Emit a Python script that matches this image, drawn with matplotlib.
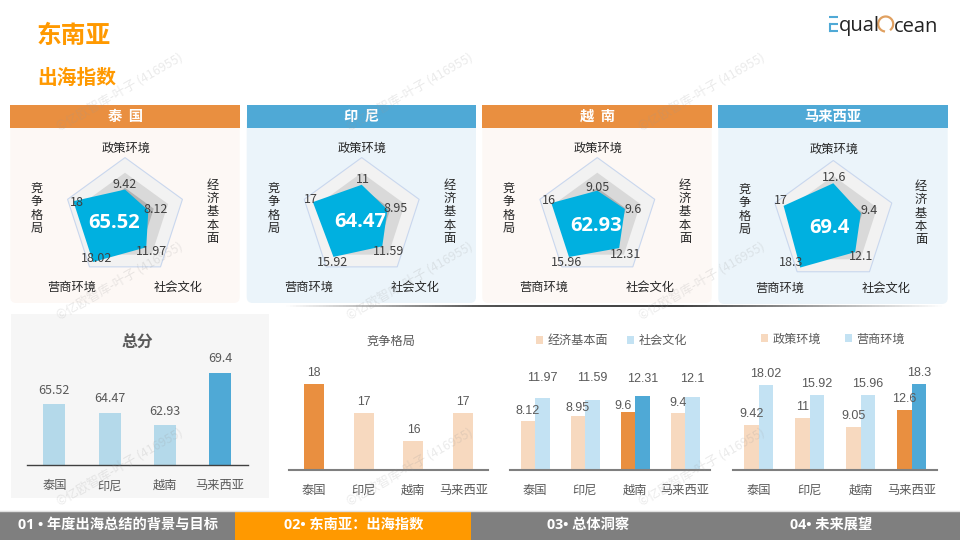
import matplotlib
matplotlib.use("Agg")
import matplotlib.pyplot as plt
import numpy as np
from matplotlib.patches import Rectangle, FancyBboxPatch, Arc

plt.rcParams['font.family'] = ['Noto Sans CJK SC', 'DejaVu Sans']

# data
countries = ['泰国', '印尼', '越南', '马来西亚']
radar_axes = ['政策环境', '经济基本面', '社会文化', '营商环境', '竞争格局']
radar_rings = [20, 15, 10]
radar_thai = [9.42, 8.12, 11.97, 18.02, 18]
radar_indo = [11, 8.95, 11.59, 15.92, 17]
radar_viet = [9.05, 9.6, 12.31, 15.96, 16]
radar_malay = [12.6, 9.4, 12.1, 18.3, 17]
total_score = [65.52, 64.47, 62.93, 69.4]
total_labels = ['65.52', '64.47', '62.93', '69.4']
compete = [18, 17, 16, 17]
economy = [8.12, 8.95, 9.6, 9.4]
society = [11.97, 11.59, 12.31, 12.1]
policy = [9.42, 11, 9.05, 12.6]
business = [18.02, 15.92, 15.96, 18.3]

ORANGE = '#E98F40'
LIGHT_ORANGE = '#F7D9BF'
BLUE = '#4FA9D6'
LIGHT_BLUE = '#C3E2F3'
TOTAL_BLUE = '#B4D9EA'
TITLE_ORANGE = '#FF9900'
GREY = '#595959'
NUM_FONT = ['Liberation Sans', 'DejaVu Sans']
FOOT_FONT = ['Open Sans', 'Noto Sans CJK SC']
W, H = 960, 540


def px_axes(left, right, top, bottom, **kw):
    return fig.add_axes([left / W, 1 - bottom / H, (right - left) / W, (bottom - top) / H], **kw)


fig = plt.figure(figsize=(9.6, 5.4), dpi=100, facecolor='white')
bg = px_axes(0, W, 0, H, zorder=0)
bg.set_xlim(0, W)
bg.set_ylim(H, 0)
bg.axis('off')
top = px_axes(0, W, 0, H, zorder=5)
top.set_xlim(0, W)
top.set_ylim(H, 0)
top.axis('off')

# titles
bg.text(37, 36, '东南亚', color=TITLE_ORANGE, fontsize=17.8, weight='bold', va='center')
bg.text(37, 78.5, '出海指数', color=TITLE_ORANGE, fontsize=14.2, weight='bold', va='center')

# logo
for y0 in [17, 24, 31]:
    bg.plot([829, 838], [y0, y0], color='#4FA9D6', lw=1.5, solid_capstyle='butt')
bg.plot([829.7, 829.7], [24, 31], color='#4FA9D6', lw=1.5)
bg.text(839, 31.5, 'qual', family='Open Sans', fontsize=14.5, color='#222222', va='baseline')
bg.add_patch(Arc((885.7, 24), 15, 15, theta1=95, theta2=55, color='#E0A060', lw=1.6))
bg.text(893.5, 31.5, 'cean', family='Open Sans', fontsize=14.5, color='#222222', va='baseline')

# radar panels
panels = [
    ('泰  国', radar_thai, '65.52', 10.3, 239.7, ORANGE, '#FDF8F5', 125, 218, 60.4, 114, 223),
    ('印  尼', radar_indo, '64.47', 246.7, 476, BLUE, '#EBF4FA', 361.7, 218, 60.4, 360, 222),
    ('越  南', radar_viet, '62.93', 482.3, 711.7, ORANGE, '#FDF8F5', 597.3, 218, 60.4, 596, 225.7),
    ('马来西亚', radar_malay, '69.4', 718.3, 947.7, BLUE, '#EBF4FA', 833.3, 222, 61.5, 829, 227.7),
]
label_offsets = [
    [(0, 5), (7, 1), (5, -4), (4, 4), (4, -1)],
    [(1, 5), (8, 1), (6, -5), (-1, -6), (-2, 3)],
    [(0, 3), (8, 0), (6, -6), (-2, -6), (-2, 3)],
    [(1, 6), (8, 3), (6, -4), (-9, 5), (-3, 5)],
]
angles = np.linspace(0, 2 * np.pi, 5, endpoint=False)
closed = np.append(angles, angles[0])

# soft shadow under the panels
shade = np.interp(np.linspace(283, 945, 200), [283, 480, 680, 945], [1.0, 0.33, 0.25, 1.0])
bg.imshow(shade[None, :], extent=[283, 945, 307.5, 305.5], cmap='gray', vmin=0, vmax=1, aspect='auto', zorder=1)
bg.set_xlim(0, W)
bg.set_ylim(H, 0)

for (name, vals, score, x0, x1, head, body, cx, cy, r, sx, sy), offs in zip(panels, label_offsets):
    bottom_y = 303 if cx < 800 else 304
    bg.add_patch(FancyBboxPatch((x0 + 6, 120), x1 - x0 - 12, bottom_y - 126, boxstyle='round,pad=6',
                                fc=body, ec='none', zorder=2))
    bg.add_patch(Rectangle((x0, 104.5), x1 - x0, 23.5, fc=head, ec='none', zorder=3))
    bg.text((x0 + x1) / 2, 116.5, name, color='white', fontsize=10.3, weight='bold', ha='center',
            va='center', zorder=4)

    ax = px_axes(cx - r, cx + r, cy - r, cy + r, projection='polar', zorder=2)
    ax.set_theta_zero_location('N')
    ax.set_theta_direction(-1)
    ax.set_rlim(0, radar_rings[0])
    ax.axis('off')
    ax.fill(closed, [radar_rings[0]] * 6, fc='#F2F2F2', ec='#C9D7EE', lw=0.8, clip_on=False)
    ax.fill(closed, [radar_rings[1]] * 6, fc='#D9D9D9', ec='none')
    ax.fill(closed, [radar_rings[2]] * 6, fc='#B3B3B3', ec='none')
    ax.fill(closed, vals + vals[:1], fc='#00B0E0', ec='none')
    for a, v, off in zip(angles, vals, offs):
        ax.annotate('%g' % v, xy=(a, v), xytext=off, textcoords='offset pixels', ha='center',
                    va='center', fontsize=9, color='#404040')

    top.text(sx, sy, score, color='white', fontsize=14.5, weight='bold', ha='center', va='center',
             family='Open Sans')
    dy = 1 if cx > 800 else 0
    top.text(cx + 0.7, 148.3 + dy, radar_axes[0], fontsize=8.8, color='#262626', ha='center', va='center')
    top.text(cx + 87.7, 212 + dy, '\n'.join(radar_axes[1]), fontsize=8.8, color='#262626', ha='center',
             va='center', linespacing=1.03)
    top.text(cx + 53.3, 287.7 + dy, radar_axes[2], fontsize=8.8, color='#262626', ha='center', va='center')
    top.text(cx - 53.3, 287.7 + dy, radar_axes[3], fontsize=8.8, color='#262626', ha='center', va='center')
    top.text(cx - 88.3, 208.5 + dy, '\n'.join(radar_axes[4]), fontsize=8.8, color='#262626', ha='center',
             va='center', linespacing=1.03)

# total score card
bg.add_patch(Rectangle((11, 314), 258, 184, fc='#F6F6F6', ec='none', zorder=2))
bg.text(137, 343, '总分', fontsize=11.4, weight='bold', color=GREY, ha='center', va='center', zorder=3)


def bar_axes(left, right, top_y, base_y, ymin, ymax, base_color, base_lw, pad):
    ax = px_axes(left, right, top_y, base_y, zorder=3)
    ax.patch.set_alpha(0)
    ax.set_xlim(-0.5, 3.5)
    ax.set_ylim(ymin, ymax)
    for s in ['top', 'left', 'right']:
        ax.spines[s].set_visible(False)
    ax.spines['bottom'].set_color(base_color)
    ax.spines['bottom'].set_linewidth(base_lw)
    ax.set_yticks([])
    ax.set_xticks(range(4))
    ax.set_xticklabels(countries, fontsize=8.8, color=GREY)
    ax.tick_params(axis='x', length=0, pad=pad)
    return ax


x = np.arange(4)

ax = bar_axes(26.7, 247.7, 345, 465.3, 58, 72.8, '#404040', 1.0, 10)
ax.bar(x, total_score, 0.4, color=[TOTAL_BLUE, TOTAL_BLUE, TOTAL_BLUE, BLUE])
for i, v in enumerate(total_score):
    ax.annotate(total_labels[i], xy=(i, v), xytext=(0, 14), textcoords='offset pixels', ha='center',
                va='center', fontsize=9, color=GREY)

ax = bar_axes(288.7, 488.3, 350, 470, 15, 19.18, '#7F7F7F', 1.5, 10)
ax.bar(x, compete, 0.4, color=[ORANGE, LIGHT_ORANGE, LIGHT_ORANGE, LIGHT_ORANGE])
for i, v in enumerate(compete):
    ax.annotate('%g' % v, xy=(i, v), xytext=(0, 11), textcoords='offset pixels', ha='center', va='center',
                fontsize=8.8, color=GREY, family=NUM_FONT)
bg.text(390.7, 341.5, '竞争格局', fontsize=8.8, color=GREY, ha='center', va='center', zorder=3)

# paired bars
econ_off = [(0, 10), (0, 8), (-5, 6), (0, 10)]
soc_off = [(0, 20), (0, 22), (0, 17), (0, 18)]
ax = bar_axes(510, 710, 350, 470, 0, 19.83, '#7F7F7F', 1.5, 10)
b1 = ax.bar(x - 0.145, economy, 0.29, color=[LIGHT_ORANGE, LIGHT_ORANGE, ORANGE, LIGHT_ORANGE])
b2 = ax.bar(x + 0.145, society, 0.29, color=[LIGHT_BLUE, LIGHT_BLUE, BLUE, LIGHT_BLUE])
for i in range(4):
    ax.annotate('%g' % economy[i], xy=(i - 0.145, economy[i]), xytext=econ_off[i], textcoords='offset pixels',
                ha='center', va='center', fontsize=9, color=GREY, family=NUM_FONT)
    ax.annotate('%g' % society[i], xy=(i + 0.145, society[i]), xytext=soc_off[i], textcoords='offset pixels',
                ha='center', va='center', fontsize=9, color=GREY, family=NUM_FONT)
fig.legend([b1[0], b2[0]], radar_axes[1:3], ncol=2, frameon=False, loc='center', fontsize=8.7,
           bbox_to_anchor=(611.5 / W, 1 - 340.7 / H), handlelength=0.58, handleheight=0.58, handletextpad=0.35,
           columnspacing=1.6, labelcolor=GREY)

ax = bar_axes(733, 937, 350, 470, 0, 25.4, '#7F7F7F', 1.5, 10)
b1 = ax.bar(x - 0.143, policy, 0.286, color=[LIGHT_ORANGE, LIGHT_ORANGE, LIGHT_ORANGE, ORANGE])
b2 = ax.bar(x + 0.143, business, 0.286, color=[LIGHT_BLUE, LIGHT_BLUE, LIGHT_BLUE, BLUE])
for i in range(4):
    ax.annotate('%g' % policy[i], xy=(i - 0.143, policy[i]), xytext=(0, 11), textcoords='offset pixels',
                ha='center', va='center', fontsize=9, color=GREY, family=NUM_FONT)
    ax.annotate('%g' % business[i], xy=(i + 0.143, business[i]), xytext=(0, 11), textcoords='offset pixels',
                ha='center', va='center', fontsize=9, color=GREY, family=NUM_FONT)
fig.legend([b1[0], b2[0]], [radar_axes[0], radar_axes[3]], ncol=2, frameon=False, loc='center', fontsize=8.7,
           bbox_to_anchor=(833 / W, 1 - 339 / H), handlelength=0.58, handleheight=0.58, handletextpad=0.35,
           columnspacing=2.0, labelcolor=GREY)

# footer
top.add_patch(Rectangle((0, 511), W, 29, fc='#7F7F7F', ec='none'))
top.plot([0, W], [510.5, 510.5], color='#E0E0E0', lw=1)
top.add_patch(Rectangle((235, 511), 236, 29, fc='#FF9900', ec='none'))
top.text(18, 525, '01 • 年度出海总结的背景与目标', color='white', fontsize=10.25, weight='bold', va='center', family=FOOT_FONT)
top.text(283.7, 525, '02• 东南亚：出海指数', color='white', fontsize=10.25, weight='bold', va='center', family=FOOT_FONT)
top.text(546.7, 525, '03• 总体洞察', color='white', fontsize=10.25, weight='bold', va='center', family=FOOT_FONT)
top.text(790, 525, '04• 未来展望', color='white', fontsize=10.25, weight='bold', va='center', family=FOOT_FONT)
top.set_xlim(0, W)
top.set_ylim(H, 0)

# watermark
for wx in [58, 348, 640]:
    for wy in [128, 317, 503]:
        top.text(wx, wy, '©亿欧智库-叶子 (416955)', fontsize=9, color='#999999', alpha=0.2, rotation=30,
                 rotation_mode='anchor', ha='left', va='center')

plt.savefig('out.png', dpi=100)
